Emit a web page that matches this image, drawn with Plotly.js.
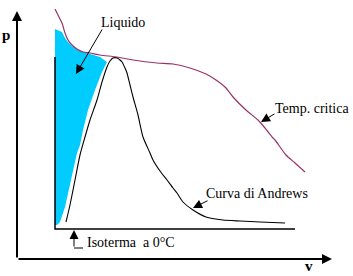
<!DOCTYPE html>
<html><head><meta charset="utf-8">
<script src="https://cdn.plot.ly/plotly-3.0.1.min.js"></script>
<style>html,body{margin:0;padding:0;background:#fff;}#c{width:353px;height:276px;}</style>
</head><body><div id="c"></div>
<script>
// v (volume) and p (pressure) values in arbitrary diagram units, origin at axes corner
const tempCriticaV = [38,41,45,48,51,55,60,66,73,83,100,116,140,156,173,189,199,209,216,229,241,248,256,258,269,278,288];
const tempCriticaP = [250,244,236,226,219,214,210,207,206,204,202,199,196,195,191,185,179,171,162,149,139,131,121,119,104,96,87];

const andrewsV = [49,53,58,63,68,73,80,85,90,93,96,100,103,105,108,110,113,116,121,126,133,136,143,150,156,160,166,176,189,206,223,243,268];
const andrewsP = [37,54,79,104,122,139,159,177,192,198,201,201,199,197,191,186,174,162,144,122,106,99,88,79,71,66,57,49,42,39,38,37,36];

const liquidoV = [38,41,45,48,51,55,61,70,83,90,85,78,71,66,63,60,55,51,48,43,40,38];
const liquidoP = [230,229,227,221,217,213,209,206,202,197,187,169,149,129,114,106,82,64,52,37,34,34];

const isotermaV = [38,38,278];
const isotermaP = [202,30,30];

const labels = ["Liquido","Temp. critica","Curva di Andrews","Isoterma\u00a0\u00a0a 0°C"];
const labelV = [106,295,240,68];
const labelP = [237,151,66,17];
const labelAnchor = ["center","center","center","left"];
// arrows: tail -> tip
const arrowTailV = [86,259,192,57];
const arrowTailP = [231,146,59,11];
const arrowTipV = [59,244,176,57];
const arrowTipP = [185,137,51,29];

const traces = [
  {x: liquidoV, y: liquidoP, mode:'lines', fill:'toself', fillcolor:'#00CCFF', line:{width:0, color:'#00CCFF'}, hoverinfo:'skip'},
  {x: isotermaV, y: isotermaP, mode:'lines', line:{color:'#000', width:1.5}, hoverinfo:'skip'},
  {x: tempCriticaV, y: tempCriticaP, mode:'lines', line:{color:'#993366', width:1.2, shape:'spline', smoothing:0.6}, hoverinfo:'skip'},
  {x: andrewsV, y: andrewsP, mode:'lines', line:{color:'#000', width:1.1, shape:'spline', smoothing:0.6}, hoverinfo:'skip'}
];

const font = {family:'Liberation Serif', size:14, color:'#000'};
const ann = [];
labels.forEach((t,i)=>{
  ann.push({x:labelV[i], y:labelP[i], xref:'x', yref:'y', text:t, showarrow:false, font:font, xanchor:labelAnchor[i], yanchor:'middle'});
  ann.push({x:arrowTipV[i], y:arrowTipP[i], ax:arrowTailV[i], ay:arrowTailP[i], xref:'x', yref:'y', axref:'x', ayref:'y',
    text:'', showarrow:true, arrowhead:2, arrowsize:1.8, arrowwidth:1, arrowcolor:'#000', standoff:0, startstandoff:0});
});
// axes arrows
ann.push({x:0, y:248, ax:0, ay:0, xref:'x', yref:'y', axref:'x', ayref:'y', text:'', showarrow:true, arrowhead:2, arrowsize:1, arrowwidth:2, arrowcolor:'#000', standoff:0});
ann.push({x:315, y:0, ax:0, ay:0, xref:'x', yref:'y', axref:'x', ayref:'y', text:'', showarrow:true, arrowhead:2, arrowsize:1, arrowwidth:2, arrowcolor:'#000', standoff:0});
// axis names
ann.push({x:-17, y:224, xref:'x', yref:'y', text:'<b>p</b>', showarrow:false, xanchor:'left', yanchor:'middle', font:{family:'Liberation Serif', size:15, color:'#000'}});
ann.push({x:292, y:-7, xref:'x', yref:'y', text:'<b>v</b>', showarrow:false, xanchor:'center', yanchor:'middle', font:{family:'Liberation Serif', size:15, color:'#000'}});

const layout = {
  width:353, height:276, margin:{l:0,r:0,t:0,b:0}, showlegend:false,
  paper_bgcolor:'#fff', plot_bgcolor:'#fff',
  font:{family:'Liberation Serif'},
  xaxis:{range:[-17,336], visible:false, fixedrange:true},
  yaxis:{range:[-17,259], visible:false, fixedrange:true},
  shapes:[
    {type:'line', xref:'x', yref:'y', x0:57, y0:11, x1:66, y1:11, line:{color:'#000', width:1}}
  ],
  annotations: ann
};
Plotly.newPlot('c', traces, layout, {staticPlot:true, displayModeBar:false});
</script></body></html>
